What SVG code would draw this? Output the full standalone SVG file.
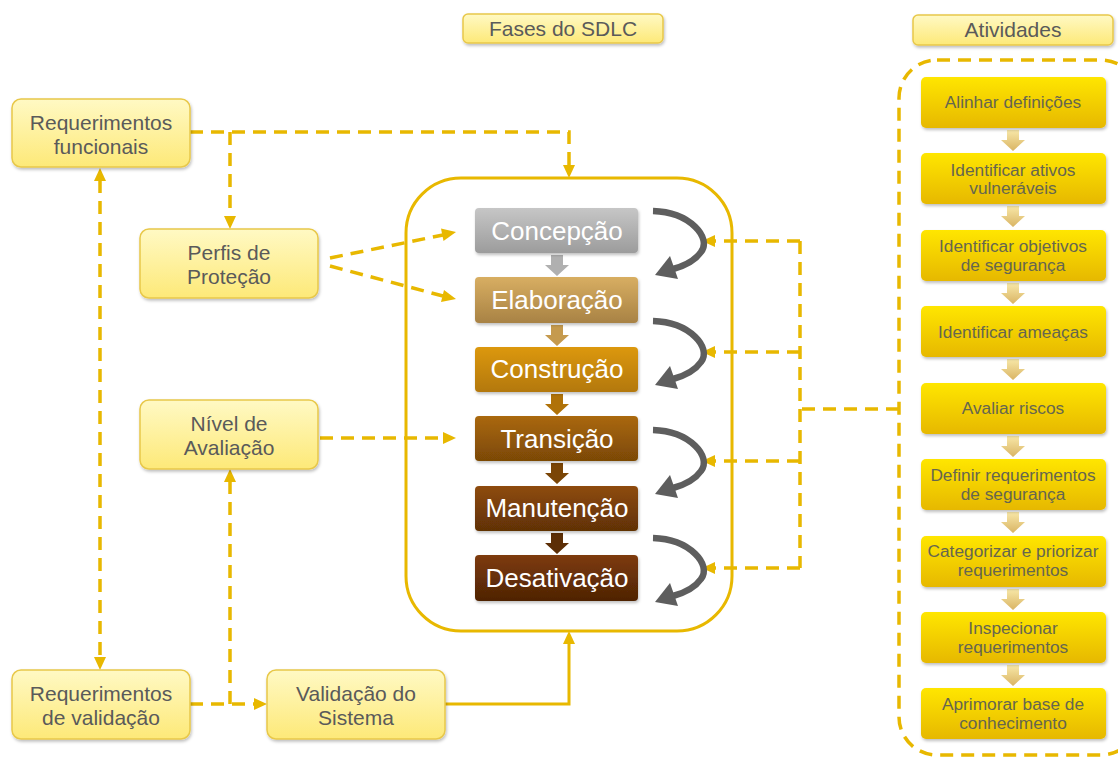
<svg xmlns="http://www.w3.org/2000/svg" width="1118" height="758" viewBox="0 0 1118 758">
  <style>
    .lbl { font-family: "Liberation Sans", Arial, sans-serif; font-size: 21px; fill: #5a5a5a; text-anchor: middle; }
    .phase { font-family: "Liberation Sans", Arial, sans-serif; font-size: 26px; fill: #ffffff; text-anchor: middle; }
    .act { font-family: "Liberation Sans", Arial, sans-serif; font-size: 17.3px; fill: #66664f; text-anchor: middle; }
    .node { fill: url(#gNode); stroke: #e8c84a; stroke-width: 1.5; filter: url(#shadow); }
    .actbox { fill: url(#gAct); filter: url(#shadow); }
    .dash { fill: none; stroke: #e8b800; stroke-width: 3.5; stroke-dasharray: 13 8; }
    .solid { fill: none; stroke: #e8b800; stroke-width: 3; }
    .head { fill: #e8b800; }
    .loop { fill: none; stroke: #5e5e5e; stroke-width: 6.5; stroke-linecap: butt; }
  </style>
  <defs>
    <linearGradient id="gNode" x1="0" y1="0" x2="0" y2="1">
      <stop offset="0" stop-color="#fff9c4"/>
      <stop offset="1" stop-color="#fde978"/>
    </linearGradient>
    <linearGradient id="gAct" x1="0" y1="0" x2="0" y2="1">
      <stop offset="0" stop-color="#ffe600"/>
      <stop offset="1" stop-color="#e6b800"/>
    </linearGradient>
    <linearGradient id="gActArrow" x1="0" y1="0" x2="0" y2="1">
      <stop offset="0" stop-color="#f8e8a8"/>
      <stop offset="1" stop-color="#d9b464"/>
    </linearGradient>
    <linearGradient id="g1" x1="0" y1="0" x2="0" y2="1"><stop offset="0" stop-color="#c6c6c6"/><stop offset="1" stop-color="#9c9c9c"/></linearGradient>
    <linearGradient id="g2" x1="0" y1="0" x2="0" y2="1"><stop offset="0" stop-color="#d8ae62"/><stop offset="1" stop-color="#a88244"/></linearGradient>
    <linearGradient id="g3" x1="0" y1="0" x2="0" y2="1"><stop offset="0" stop-color="#dc980e"/><stop offset="1" stop-color="#b37808"/></linearGradient>
    <linearGradient id="g4" x1="0" y1="0" x2="0" y2="1"><stop offset="0" stop-color="#aa680a"/><stop offset="1" stop-color="#7b4806"/></linearGradient>
    <linearGradient id="g5" x1="0" y1="0" x2="0" y2="1"><stop offset="0" stop-color="#8e4b0a"/><stop offset="1" stop-color="#603106"/></linearGradient>
    <linearGradient id="g6" x1="0" y1="0" x2="0" y2="1"><stop offset="0" stop-color="#7e3b0a"/><stop offset="1" stop-color="#4e2305"/></linearGradient>
    <filter id="shadow" x="-10%" y="-20%" width="120%" height="150%">
      <feDropShadow dx="1" dy="2" stdDeviation="1.5" flood-color="#000" flood-opacity="0.25"/>
    </filter>
    <!-- curved loop arrow between two phases -->
    <g id="loop">
      <path class="loop" d="M653,211 C690,212 712,238 701,252 C694,262 684,266 673,269"/>
      <polygon points="655,275 670,256 678,279" fill="#5e5e5e"/>
    </g>
    <!-- small block arrow between stacked boxes -->
    <path id="blk" d="M-6,0 H6 V10 H12 L0,21 L-12,10 H-6 Z"/>
  </defs>

  <!-- headers -->
  <g id="hdr-fases">
    <rect class="node" x="463" y="14" width="200" height="29" rx="5"/>
    <text class="lbl" x="563" y="36">Fases do SDLC</text>
  </g>
  <g id="hdr-atividades">
    <rect class="node" x="913" y="15" width="200" height="30" rx="5"/>
    <text class="lbl" x="1013" y="37">Atividades</text>
  </g>

  <!-- connectors -->
  <g id="connectors">
    <!-- SDLC container -->
    <rect class="solid" x="406" y="178" width="326" height="453" rx="55"/>
    <!-- Requerimentos funcionais to SDLC and Perfis -->
    <path class="dash" d="M190,132 H569 V166"/>
    <polygon class="head" points="563,165 575,165 569,178"/>
    <path class="dash" d="M230,132 V217"/>
    <polygon class="head" points="224,216 236,216 230,229"/>
    <!-- Perfis to Concepção / Elaboração -->
    <path class="dash" d="M330,258 L443,235"/>
    <polygon class="head" points="456,232 441,228.5 443.5,241"/>
    <path class="dash" d="M330,266 L443,296"/>
    <polygon class="head" points="456,299 444,290 441,302"/>
    <!-- Nível de Avaliação to Transição -->
    <path class="dash" d="M320,438 H443"/>
    <polygon class="head" points="443,432 443,444 456,438"/>
    <!-- vertical link between the two Requerimentos boxes -->
    <path class="dash" d="M100,180 V657"/>
    <polygon class="head" points="94,181 106,181 100,168"/>
    <polygon class="head" points="94,657 106,657 100,670"/>
    <!-- Requerimentos de validação to Validação do Sistema and Nível -->
    <path class="dash" d="M190,704 H254"/>
    <polygon class="head" points="254,698 254,710 267,704"/>
    <path class="dash" d="M230,704 V482"/>
    <polygon class="head" points="224,482 236,482 230,469"/>
    <!-- Validação do Sistema to SDLC -->
    <path class="solid" d="M445,704 H569 V643"/>
    <polygon class="head" points="563,644 575,644 569,631"/>
    <!-- Atividades feeding the phase loops -->
    <path class="dash" d="M899,409 H800"/>
    <path class="dash" d="M800,241 V568"/>
    <path class="dash" d="M800,241 H714"/>
    <path class="dash" d="M800,352 H714"/>
    <path class="dash" d="M800,461 H714"/>
    <path class="dash" d="M800,568 H714"/>
    <polygon class="head" points="715,235 715,247 702,241"/>
    <polygon class="head" points="715,346 715,358 702,352"/>
    <polygon class="head" points="715,455 715,467 702,461"/>
    <polygon class="head" points="715,562 715,574 702,568"/>
    <!-- Atividades container -->
    <rect class="dash" x="899" y="60" width="240" height="695" rx="38"/>
  </g>

  <!-- left nodes -->
  <g id="req-funcionais">
    <rect class="node" x="12" y="99" width="178" height="68" rx="9"/>
    <text class="lbl" x="101" y="130">Requerimentos</text>
    <text class="lbl" x="101" y="154">funcionais</text>
  </g>
  <g id="perfis">
    <rect class="node" x="140" y="229" width="178" height="69" rx="9"/>
    <text class="lbl" x="229" y="260">Perfis de</text>
    <text class="lbl" x="229" y="284">Proteção</text>
  </g>
  <g id="nivel">
    <rect class="node" x="140" y="400" width="178" height="69" rx="9"/>
    <text class="lbl" x="229" y="431">Nível de</text>
    <text class="lbl" x="229" y="455">Avaliação</text>
  </g>
  <g id="req-validacao">
    <rect class="node" x="12" y="670" width="178" height="69" rx="9"/>
    <text class="lbl" x="101" y="701">Requerimentos</text>
    <text class="lbl" x="101" y="725">de validação</text>
  </g>
  <g id="validacao-sistema">
    <rect class="node" x="267" y="670" width="178" height="69" rx="9"/>
    <text class="lbl" x="356" y="701">Validação do</text>
    <text class="lbl" x="356" y="725">Sistema</text>
  </g>

  <!-- SDLC phases -->
  <g id="phase-arrows">
    <use href="#blk" x="557" y="255" fill="#b0b0b0"/>
    <use href="#blk" x="557" y="325" fill="#c59a4e"/>
    <use href="#blk" x="557" y="394" fill="#b07208"/>
    <use href="#blk" x="557" y="463" fill="#7a4506"/>
    <use href="#blk" x="557" y="533" fill="#5c2e06"/>
  </g>
  <g id="concepcao">
    <rect x="475" y="208" width="163" height="45" rx="4" fill="url(#g1)" filter="url(#shadow)"/>
    <text class="phase" x="557" y="240">Concepção</text>
  </g>
  <g id="elaboracao">
    <rect x="475" y="277" width="163" height="46" rx="4" fill="url(#g2)" filter="url(#shadow)"/>
    <text class="phase" x="557" y="309">Elaboração</text>
  </g>
  <g id="construcao">
    <rect x="475" y="347" width="163" height="45" rx="4" fill="url(#g3)" filter="url(#shadow)"/>
    <text class="phase" x="557" y="378">Construção</text>
  </g>
  <g id="transicao">
    <rect x="475" y="416" width="163" height="45" rx="4" fill="url(#g4)" filter="url(#shadow)"/>
    <text class="phase" x="557" y="448">Transição</text>
  </g>
  <g id="manutencao">
    <rect x="475" y="486" width="163" height="45" rx="4" fill="url(#g5)" filter="url(#shadow)"/>
    <text class="phase" x="557" y="517">Manutenção</text>
  </g>
  <g id="desativacao">
    <rect x="475" y="555" width="163" height="46" rx="4" fill="url(#g6)" filter="url(#shadow)"/>
    <text class="phase" x="557" y="587">Desativação</text>
  </g>
  <g id="loops">
    <use href="#loop"/>
    <use href="#loop" y="110"/>
    <use href="#loop" y="219"/>
    <use href="#loop" y="327"/>
  </g>

  <!-- activities -->
  <g id="act-arrows" fill="url(#gActArrow)">
    <use href="#blk" x="1013" y="130"/>
    <use href="#blk" x="1013" y="206"/>
    <use href="#blk" x="1013" y="283"/>
    <use href="#blk" x="1013" y="359"/>
    <use href="#blk" x="1013" y="436"/>
    <use href="#blk" x="1013" y="512"/>
    <use href="#blk" x="1013" y="589"/>
    <use href="#blk" x="1013" y="665"/>
  </g>
  <g id="act1">
    <rect class="actbox" x="921" y="77" width="185" height="51" rx="5"/>
    <text class="act" x="1013" y="108">Alinhar definições</text>
  </g>
  <g id="act2">
    <rect class="actbox" x="921" y="153" width="185" height="51" rx="5"/>
    <text class="act" x="1013" y="176">Identificar ativos</text>
    <text class="act" x="1013" y="194">vulneráveis</text>
  </g>
  <g id="act3">
    <rect class="actbox" x="921" y="230" width="185" height="51" rx="5"/>
    <text class="act" x="1013" y="252">Identificar objetivos</text>
    <text class="act" x="1013" y="271">de segurança</text>
  </g>
  <g id="act4">
    <rect class="actbox" x="921" y="306" width="185" height="51" rx="5"/>
    <text class="act" x="1013" y="338">Identificar ameaças</text>
  </g>
  <g id="act5">
    <rect class="actbox" x="921" y="383" width="185" height="51" rx="5"/>
    <text class="act" x="1013" y="414">Avaliar riscos</text>
  </g>
  <g id="act6">
    <rect class="actbox" x="921" y="459" width="185" height="51" rx="5"/>
    <text class="act" x="1013" y="481">Definir requerimentos</text>
    <text class="act" x="1013" y="500">de segurança</text>
  </g>
  <g id="act7">
    <rect class="actbox" x="921" y="536" width="185" height="51" rx="5"/>
    <text class="act" x="1013" y="557">Categorizar e priorizar</text>
    <text class="act" x="1013" y="576">requerimentos</text>
  </g>
  <g id="act8">
    <rect class="actbox" x="921" y="612" width="185" height="51" rx="5"/>
    <text class="act" x="1013" y="634">Inspecionar</text>
    <text class="act" x="1013" y="653">requerimentos</text>
  </g>
  <g id="act9">
    <rect class="actbox" x="921" y="688" width="185" height="51" rx="5"/>
    <text class="act" x="1013" y="710">Aprimorar base de</text>
    <text class="act" x="1013" y="729">conhecimento</text>
  </g>
</svg>
